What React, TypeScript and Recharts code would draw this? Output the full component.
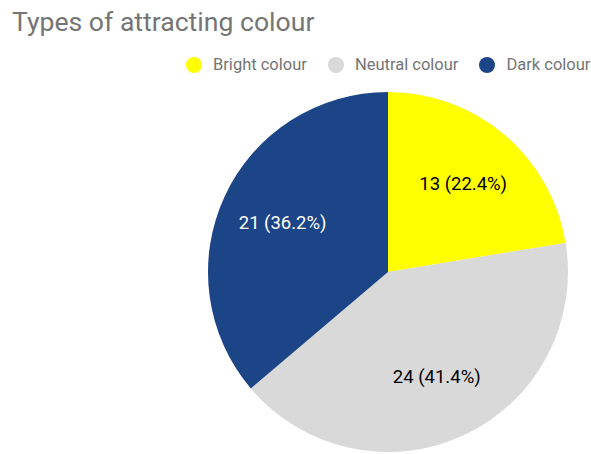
import { PieChart, Pie, Cell } from 'recharts';

const CATEGORIES = ['Bright colour', 'Neutral colour', 'Dark colour'];
const COUNTS = [13, 24, 21];
const COLORS = ['#ffff00', '#d9d9d9', '#1c4587'];
const LABEL_COLORS = ['#000000', '#000000', '#ffffff'];

const data = CATEGORIES.map((name, i) => ({ name, value: COUNTS[i] }));
const total = COUNTS.reduce((a, b) => a + b, 0);

const RADIAN = Math.PI / 180;

function renderLabel(props: any) {
  const { cx, cy, midAngle, outerRadius, index, value } = props;
  const r = outerRadius * 0.645;
  const x = cx + r * Math.cos(-midAngle * RADIAN);
  const y = cy + r * Math.sin(-midAngle * RADIAN);
  const pct = ((value / total) * 100).toFixed(1);
  return (
    <text
      x={x}
      y={y}
      fill={LABEL_COLORS[index]}
      textAnchor="middle"
      dominantBaseline="central"
      fontSize={18.5}
      fontFamily="Roboto, sans-serif"
    >
      {`${value} (${pct}%)`}
    </text>
  );
}

function ChartLegend() {
  return (
    <div style={{ position: 'absolute', left: 186, top: 57, height: 16, display: 'flex', alignItems: 'center', fontFamily: 'Roboto, sans-serif', fontSize: 16.5, lineHeight: '16px', color: '#757575', whiteSpace: 'nowrap' }}>
      {CATEGORIES.map((c, i) => (
        <div key={c} style={{ display: 'flex', alignItems: 'center', marginLeft: i === 0 ? 0 : 21 }}>
          <span style={{ width: 16, height: 16, borderRadius: 8, background: COLORS[i], marginRight: 11, display: 'inline-block' }} />
          <span>{c}</span>
        </div>
      ))}
    </div>
  );
}

export default function App() {
  return (
    <div style={{ position: 'fixed', left: 0, top: 0, width: 591, height: 454, background: '#fff', overflow: 'hidden' }}>
      <div style={{ position: 'absolute', left: 12, top: 9, fontFamily: 'Roboto, sans-serif', fontSize: 26.6, lineHeight: '26px', color: '#757575', whiteSpace: 'nowrap' }}>
        Types of attracting colour
      </div>
      <ChartLegend />
      <div style={{ position: 'absolute', left: 0, top: 0 }}>
        <PieChart width={591} height={454} margin={{ top: 0, right: 0, bottom: 0, left: 0 }}>
          <Pie
            data={data}
            dataKey="value"
            nameKey="name"
            cx={388}
            cy={272}
            outerRadius={180}
            startAngle={90}
            endAngle={-270}
            stroke="none"
            label={renderLabel}
            labelLine={false}
            isAnimationActive={false}
          >
            {data.map((d, i) => (
              <Cell key={d.name} fill={COLORS[i]} />
            ))}
          </Pie>
        </PieChart>
      </div>
    </div>
  );
}
